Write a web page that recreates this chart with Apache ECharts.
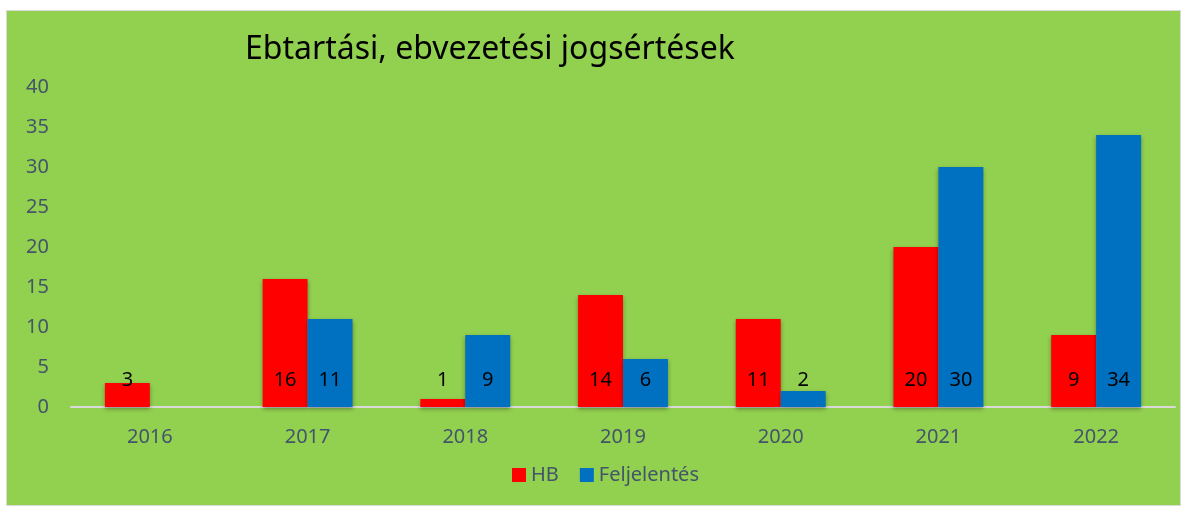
<!DOCTYPE html>
<html>
<head>
<meta charset="utf-8">
<script src="https://cdn.jsdelivr.net/npm/echarts@6/dist/echarts.min.js"></script>
<style>
  html, body { margin: 0; padding: 0; background: #fff; }
  #chart {
    position: absolute; left: 7px; top: 11px;
    width: 1173px; height: 494px;
    background: #92D050;
    box-shadow: 0 0 0 1px #d9d9d9;
  }
</style>
</head>
<body>
<div id="chart"></div>
<script>
const years = ['2016', '2017', '2018', '2019', '2020', '2021', '2022'];
const hb = [3, 16, 1, 14, 11, 20, 9];
const feljelentes = [null, 11, 9, 6, 2, 30, 34];

const chart = echarts.init(document.getElementById('chart'));
const font = 'Noto Sans';
const barShadow = { shadowColor: 'rgba(0,0,0,0.35)', shadowBlur: 4, shadowOffsetY: 2 };
const label = {
  show: true,
  position: 'insideBottom',
  distance: 17,
  color: '#000',
  fontFamily: font,
  fontSize: 20
};

chart.setOption({
  animation: false,
  title: {
    text: 'Ebtartási, ebvezetési jogsértések',
    left: 233,
    top: 18,
    textStyle: { fontFamily: font, fontWeight: 'normal', fontSize: 32, color: '#000' }
  },
  legend: {
    left: 500,
    top: 449,
    itemWidth: 14,
    itemHeight: 14,
    itemGap: 21,
    icon: 'rect',
    textStyle: { fontFamily: font, fontSize: 20, color: '#44546A' },
    data: ['HB', 'Feljelentés']
  },
  grid: { left: 64, right: 5, top: 76, bottom: 98 },
  xAxis: {
    type: 'category',
    data: years,
    axisLine: { lineStyle: { color: '#D9D9D9', width: 2 } },
    axisTick: { show: false },
    axisLabel: { margin: 20, fontFamily: font, fontSize: 20, color: '#44546A' }
  },
  yAxis: {
    type: 'value',
    min: 0,
    max: 40,
    interval: 5,
    splitLine: { show: false },
    axisLabel: { margin: 22, fontFamily: font, fontSize: 20, color: '#44546A' }
  },
  series: [
    {
      name: 'HB',
      type: 'bar',
      data: hb,
      barWidth: '28.5%',
      barGap: '0%',
      itemStyle: Object.assign({ color: '#FF0000' }, barShadow),
      label: label
    },
    {
      name: 'Feljelentés',
      type: 'bar',
      data: feljelentes,
      barWidth: '28.5%',
      itemStyle: Object.assign({ color: '#0070C0' }, barShadow),
      label: label
    }
  ]
});
</script>
</body>
</html>
